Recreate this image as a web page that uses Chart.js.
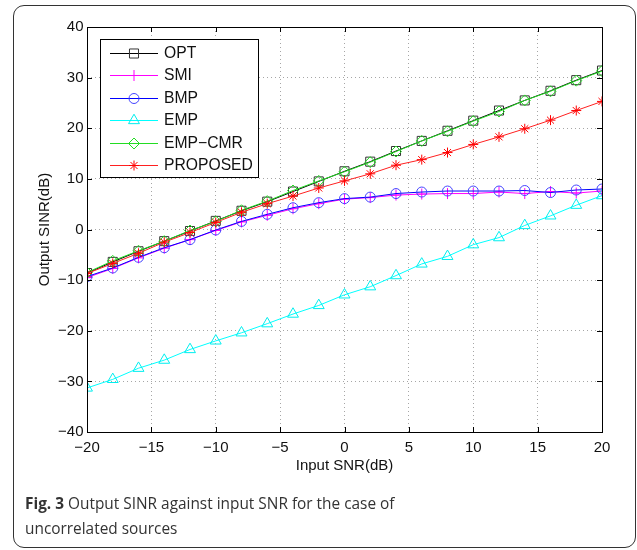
<!DOCTYPE html>
<html><head><meta charset="utf-8">
<script src="https://cdn.jsdelivr.net/npm/chart.js@4.4.0/dist/chart.umd.min.js"></script>
<style>
html,body{margin:0;padding:0;background:#fff;}
#wrap{position:relative;width:637px;height:550px;overflow:hidden;background:#fff;}
#frame{position:absolute;left:13px;top:5px;width:623px;height:543px;border:1.5px solid #333;border-radius:11px;box-sizing:border-box;}
#c{position:absolute;left:0;top:0;}
#cap{position:absolute;left:25px;top:491px;font-family:'Open Sans',sans-serif;font-size:15.4px;line-height:25px;color:#333;white-space:nowrap;}
#cap b{font-weight:700;}
</style></head>
<body>
<div id="wrap">
<div id="frame"></div>
<canvas id="c" width="637" height="550"></canvas>
<div id="cap"><b>Fig. 3</b> Output SINR against input SNR for the case of<br>uncorrelated sources</div>
</div>
<script>
// ---- data ----
const snr = [-20,-18,-16,-14,-12,-10,-8,-6,-4,-2,0,2,4,6,8,10,12,14,16,18,20];
const seriesNames = ['OPT','SMI','BMP','EMP','EMP\u2212CMR','PROPOSED'];
const opt     = [-8.6,-6.4,-4.3,-2.3,-0.3,1.7,3.7,5.5,7.5,9.5,11.5,13.4,15.5,17.5,19.5,21.5,23.5,25.5,27.4,29.5,31.4];
const smi     = [-9.5,-7.7,-5.6,-3.7,-2.0,-0.2,1.5,2.8,4.1,5.1,6.0,6.3,6.8,7.0,7.1,7.1,7.4,7.1,7.5,7.2,7.6];
const bmp     = [-9.3,-7.6,-5.5,-3.6,-2.0,-0.1,1.6,3.0,4.3,5.3,6.1,6.4,7.1,7.4,7.6,7.6,7.6,7.7,7.3,7.8,8.0];
const emp     = [-31.3,-29.6,-27.4,-25.8,-23.7,-22.0,-20.4,-18.6,-16.7,-15.0,-12.9,-11.3,-9.1,-6.8,-5.3,-3.0,-1.6,0.8,2.7,4.8,6.7];
const empcmr  = [-8.5,-6.2,-4.2,-2.3,-0.2,1.6,3.8,5.6,7.7,9.6,11.4,13.3,15.4,17.5,19.4,21.4,23.3,25.5,27.3,29.4,31.3];
const proposed= [-8.7,-6.7,-4.7,-2.5,-0.6,1.4,3.4,5.1,6.6,8.2,9.6,11.0,12.7,13.8,15.2,16.8,18.3,19.9,21.6,23.5,25.3];
const xTickValues = [-20,-15,-10,-5,0,5,10,15,20];
const xTickLabels = ['\u221220','\u221215','\u221210','\u22125','0','5','10','15','20'];
const yTickValues = [-40,-30,-20,-10,0,10,20,30,40];
const yTickLabels = ['\u221240','\u221230','\u221220','\u221210','0','10','20','30','40'];
const xTitle = 'Input SNR(dB)';
const yTitle = 'Output SINR(dB)';

// ---- styles ----
const seriesValues = [opt, smi, bmp, emp, empcmr, proposed];
const lineColors   = ['#000000','#ff00ff','#0000ff','#00ffff','#22dd22','#ff2020'];
const markColors   = ['#333333','#ff00ff','#4444ff','#00eeee','#22dd22','#ff0000'];
const markStyles   = ['rect','cross','circle','triangle','rectRot','star'];
const markRadius   = [6.4,5.5,5,6.3,5.5,5];
const FONT = "'Liberation Sans', Arial, sans-serif";

const datasets = seriesValues.map((vals, i) => ({
  label: seriesNames[i],
  data: snr.map((x, j) => ({x: x, y: vals[j]})),
  borderColor: lineColors[i],
  borderWidth: 1,
  pointStyle: markStyles[i],
  pointRadius: markRadius[i],
  pointHoverRadius: markRadius[i],
  pointBorderColor: markColors[i],
  pointHoverBorderColor: markColors[i],
  pointBackgroundColor: 'rgba(0,0,0,0)',
  pointHoverBackgroundColor: 'rgba(0,0,0,0)',
  pointBorderWidth: 1,
  tension: 0,
  fill: false,
  order: seriesValues.length - 1 - i
}));

const boxPlugin = {
  id: 'boxPlugin',
  afterDatasetsDraw(chart) {
    const {ctx, chartArea: a, scales} = chart;
    ctx.save();
    ctx.strokeStyle = '#000';
    ctx.lineWidth = 1;
    ctx.beginPath();
    const tl = 5;
    scales.x.ticks.forEach(t => {
      const px = Math.round(scales.x.getPixelForValue(t.value)) + 0.5;
      ctx.moveTo(px, a.bottom); ctx.lineTo(px, a.bottom - tl);
      ctx.moveTo(px, a.top); ctx.lineTo(px, a.top + tl);
    });
    scales.y.ticks.forEach(t => {
      const py = Math.round(scales.y.getPixelForValue(t.value)) + 0.5;
      ctx.moveTo(a.left, py); ctx.lineTo(a.left + tl, py);
      ctx.moveTo(a.right, py); ctx.lineTo(a.right - tl, py);
    });
    ctx.stroke();
    ctx.strokeRect(Math.round(a.left) + 0.5, Math.round(a.top) + 0.5, Math.round(a.right - a.left), Math.round(a.bottom - a.top));
    ctx.restore();
  },
  afterDraw(chart) {
    const {ctx} = chart;
    const lx = 100.5, ly = 39.5, lw = 158, lh = 138;
    ctx.save();
    ctx.fillStyle = '#fff';
    ctx.fillRect(lx, ly, lw, lh);
    ctx.strokeStyle = '#000';
    ctx.lineWidth = 1;
    ctx.strokeRect(lx, ly, lw, lh);
    ctx.font = '15.7px ' + FONT;
    ctx.textBaseline = 'middle';
    ctx.textAlign = 'left';
    chart.data.datasets.forEach((ds, i) => {
      const y = Math.round(53 + i * 22.4) + 0.5;
      ctx.lineWidth = 1;
      ctx.strokeStyle = ds.borderColor;
      ctx.beginPath();
      ctx.moveTo(110, y);
      ctx.lineTo(158, y);
      ctx.stroke();
      ctx.strokeStyle = ds.pointBorderColor;
      ctx.fillStyle = 'rgba(0,0,0,0)';
      Chart.helpers.drawPoint(ctx, {pointStyle: ds.pointStyle, rotation: 0, radius: ds.pointRadius, borderWidth: 1}, 134, y);
      ctx.fillStyle = '#111';
      ctx.fillText(ds.label, 164, y);
    });
    ctx.restore();
  }
};

new Chart(document.getElementById('c'), {
  type: 'line',
  data: {datasets: datasets},
  plugins: [boxPlugin],
  options: {
    responsive: false,
    animation: false,
    devicePixelRatio: 1,
    events: [],
    layout: {padding: {left: 20, top: 27, right: 35, bottom: 75}},
    plugins: {legend: {display: false}, tooltip: {enabled: false}, title: {display: false}},
    elements: {line: {borderWidth: 1}},
    scales: {
      x: {
        type: 'linear', min: -20, max: 20,
        afterBuildTicks: s => { s.ticks = xTickValues.map(v => ({value: v})); },
        afterFit: s => { s.height = 43; s.paddingLeft = 0; s.paddingRight = 0; },
        ticks: {
          padding: 7, color: '#111', font: {family: FONT, size: 15},
          maxRotation: 0, autoSkip: false,
          callback: v => xTickLabels[xTickValues.indexOf(v)]
        },
        grid: {color: 'rgba(0,0,0,0.35)', lineWidth: 1, drawTicks: false, borderDash: [1, 3]},
        border: {display: false, dash: [1, 3]},
        title: {display: true, text: xTitle, color: '#111', font: {family: FONT, size: 15}, padding: {top: 0, bottom: 0}}
      },
      y: {
        type: 'linear', min: -40, max: 40,
        afterBuildTicks: s => { s.ticks = yTickValues.map(v => ({value: v})); },
        afterFit: s => { s.width = 67; s.paddingTop = 0; s.paddingBottom = 0; },
        ticks: {
          padding: 3.5, color: '#111', font: {family: FONT, size: 15},
          autoSkip: false,
          callback: v => yTickLabels[yTickValues.indexOf(v)]
        },
        grid: {color: 'rgba(0,0,0,0.35)', lineWidth: 1, drawTicks: false, borderDash: [1, 3]},
        border: {display: false, dash: [1, 3]},
        title: {display: true, text: yTitle, color: '#111', font: {family: FONT, size: 15}, padding: {top: 15.5, bottom: 0}}
      }
    }
  }
});
</script>
</body></html>
